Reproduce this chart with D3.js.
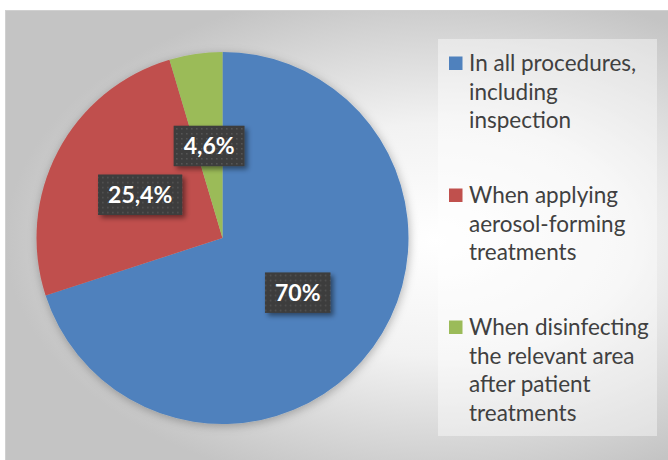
<!DOCTYPE html>
<html>
<head>
<meta charset="utf-8">
<script src="https://cdn.jsdelivr.net/npm/d3@7"></script>
<style>
  html, body { margin: 0; padding: 0; background: #ffffff; }
  svg { display: block; }
</style>
</head>
<body>
<svg id="chart" width="668" height="460"></svg>
<script>
// ---- data ----
const categories = [
  "In all procedures, including inspection",
  "When applying aerosol-forming treatments",
  "When disinfecting the relevant area after patient treatments"
];
const legendLines = [
  ["In all procedures,", "including", "inspection"],
  ["When applying", "aerosol-forming", "treatments"],
  ["When disinfecting", "the relevant area", "after patient", "treatments"]
];
const values = [70, 25.4, 4.6];
const valueLabels = ["70%", "25,4%", "4,6%"];
const colors = ["#4F81BD", "#C0504D", "#9BBB59"];

// ---- drawing ----
const W = 668, H = 460;
const svg = d3.select("#chart");
const defs = svg.append("defs");

const bg = defs.append("radialGradient")
  .attr("id", "bgGrad")
  .attr("gradientUnits", "userSpaceOnUse")
  .attr("cx", 435).attr("cy", 240).attr("r", 430)
  .attr("gradientTransform", "translate(435,240) scale(1,0.6) translate(-435,-240)");
bg.append("stop").attr("offset", 0).attr("stop-color", "#ffffff");
bg.append("stop").attr("offset", 0.45).attr("stop-color", "#f2f2f2");
bg.append("stop").attr("offset", 1).attr("stop-color", "#c4c4c4");

const pieShadow = defs.append("filter").attr("id", "pieShadow")
  .attr("x", "-20%").attr("y", "-20%").attr("width", "140%").attr("height", "140%");
pieShadow.append("feDropShadow").attr("dx", 1).attr("dy", 2).attr("stdDeviation", 5)
  .attr("flood-color", "#000").attr("flood-opacity", 0.28);

const boxShadow = defs.append("filter").attr("id", "boxShadow")
  .attr("x", "-30%").attr("y", "-30%").attr("width", "160%").attr("height", "160%");
boxShadow.append("feDropShadow").attr("dx", 3).attr("dy", 3).attr("stdDeviation", 2.5)
  .attr("flood-color", "#000").attr("flood-opacity", 0.45);

const dots = defs.append("pattern").attr("id", "dots")
  .attr("patternUnits", "userSpaceOnUse").attr("width", 5).attr("height", 5);
dots.append("rect").attr("width", 5).attr("height", 5).attr("fill", "#3c3c3c");
dots.append("rect").attr("x", 2).attr("y", 2).attr("width", 1.5).attr("height", 1.5).attr("fill", "#585858");

// background
svg.append("rect").attr("x", 5.5).attr("y", 10.5).attr("width", W).attr("height", H)
  .attr("fill", "url(#bgGrad)").attr("stroke", "#d0d0d0").attr("stroke-width", 1);

// pie
const cx = 222.5, cy = 238, R = 186;
const pie = d3.pie().sort(null).value(d => d)(values);
const arc = d3.arc().innerRadius(0).outerRadius(R);
const labelArc = d3.arc().innerRadius(R * 0.5).outerRadius(R * 0.5);

const g = svg.append("g").attr("transform", `translate(${cx},${cy})`);
g.append("g").attr("filter", "url(#pieShadow)")
  .selectAll("path").data(pie).join("path")
  .attr("d", arc)
  .attr("fill", (d, i) => colors[i]);

// labels
const lg = g.selectAll("g.lbl").data(pie).join("g").attr("class", "lbl")
  .attr("transform", d => `translate(${labelArc.centroid(d)})`);
lg.each(function(d, i) {
  const sel = d3.select(this);
  const t = sel.append("text")
    .attr("text-anchor", "middle").attr("dy", "0.36em")
    .attr("font-family", "Lato, 'Open Sans', sans-serif")
    .attr("font-weight", "bold").attr("font-size", 23)
    .attr("fill", "#ffffff")
    .text(valueLabels[i]);
  const w = t.node().getComputedTextLength();
  const bw = w + 20, bh = 40.5;
  sel.insert("rect", "text")
    .attr("x", -bw / 2).attr("y", -bh / 2)
    .attr("width", bw).attr("height", bh)
    .attr("fill", "url(#dots)")
    .attr("filter", "url(#boxShadow)");
});

// legend
const legendBox = { x: 438, y: 39, w: 219, h: 397 };
svg.append("rect").attr("x", legendBox.x).attr("y", legendBox.y)
  .attr("width", legendBox.w).attr("height", legendBox.h)
  .attr("fill", "#ffffff").attr("fill-opacity", 0.42);

const ly = d3.scalePoint().domain(categories).range([63, 327]);
const lineH = 28.6;
const leg = svg.append("g").selectAll("g").data(categories).join("g")
  .attr("transform", d => `translate(449,${ly(d)})`);
leg.append("rect").attr("x", 0).attr("y", -6.5).attr("width", 13.5).attr("height", 13.5)
  .attr("fill", (d, i) => colors[i]);
leg.each(function(d, i) {
  const t = d3.select(this).append("text")
    .attr("font-family", "Lato, 'Open Sans', sans-serif")
    .attr("font-size", 22.5).attr("fill", "#404040");
  legendLines[i].forEach((line, k) => {
    t.append("tspan").attr("x", 20).attr("y", k * lineH).attr("dy", "0.36em").text(line);
  });
});
</script>
</body>
</html>
